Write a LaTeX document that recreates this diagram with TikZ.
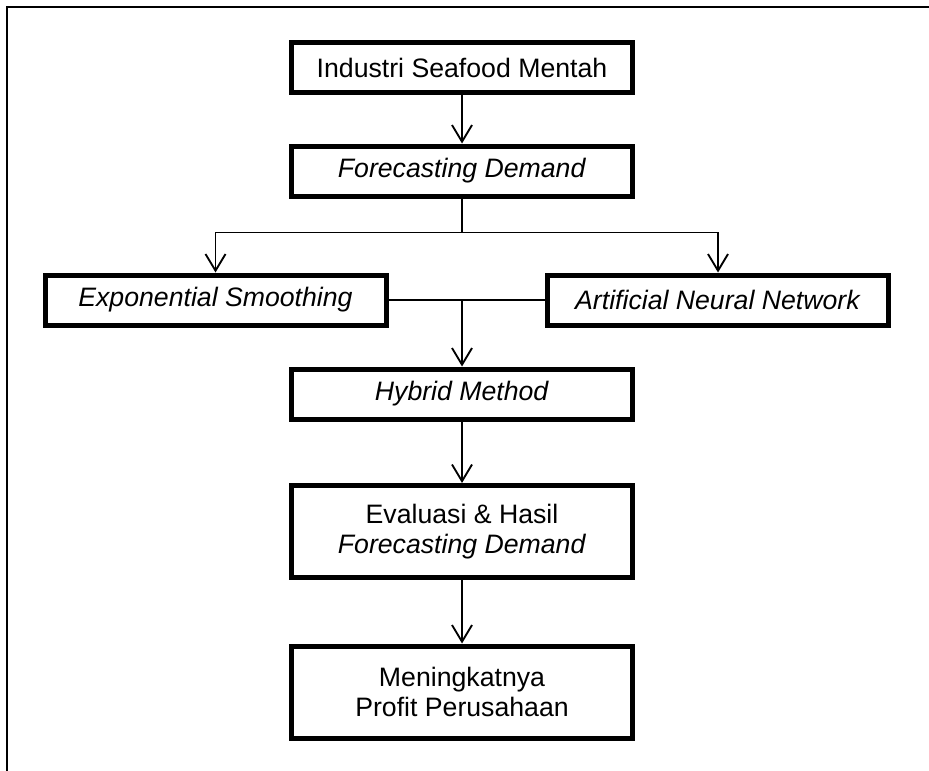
\documentclass[tikz,border=0pt]{standalone}
\usepackage{fontspec}
\setmainfont{Liberation Sans}
\usetikzlibrary{arrows.meta}

\begin{document}
\begin{tikzpicture}[x=0.75pt,y=-0.75pt,
    box/.style={draw,rectangle,line width=3.75pt,minimum width=255.75pt,minimum height=37.5pt,inner sep=0pt,align=center,font=\fontsize{20}{22}\selectfont},
    tallbox/.style={box,minimum height=69pt},
    link/.style={draw,line width=1.4pt},
    arrow/.style={link,-{Straight Barb[length=12.5pt,width=15pt,line width=1.4pt]}}]

  \useasboundingbox (0,0) rectangle (929,771);
  \draw [line width=1.7pt] (7,771) -- (7,7) -- (929,7);

  \node [box] (seafood) at (462,67.5) {Industri Seafood Mentah};
  \node [box] (forecast) at (462,171) {\textit{Forecasting Demand}};
  \node [box] (expsmooth) at (215.5,300) {\textit{Exponential Smoothing}};
  \node [box] (neural) at (718,300) {\textit{Artificial Neural Network}};
  \node [box] (hybrid) at (462,394) {\textit{Hybrid Method}};
  \node [tallbox] (evaluasi) at (462,531.5) {Evaluasi \& Hasil\\\textit{Forecasting Demand}};
  \node [tallbox] (profit) at (462,692) {Meningkatnya\\Profit Perusahaan};

  \draw [arrow] (seafood) -- (forecast);
  \draw [link] (forecast.south) -- ++(0,34) coordinate (split);
  \draw [arrow] (split) -| (expsmooth.north);
  \draw [arrow] (split) -| (neural.north);

  \draw [link] (expsmooth.east) -- (neural.west);
  \draw [arrow] (expsmooth.east -| hybrid.north) -- (hybrid.north);
  \draw [arrow] (hybrid) -- (evaluasi);
  \draw [arrow] (evaluasi) -- (profit);

\end{tikzpicture}
\end{document}
